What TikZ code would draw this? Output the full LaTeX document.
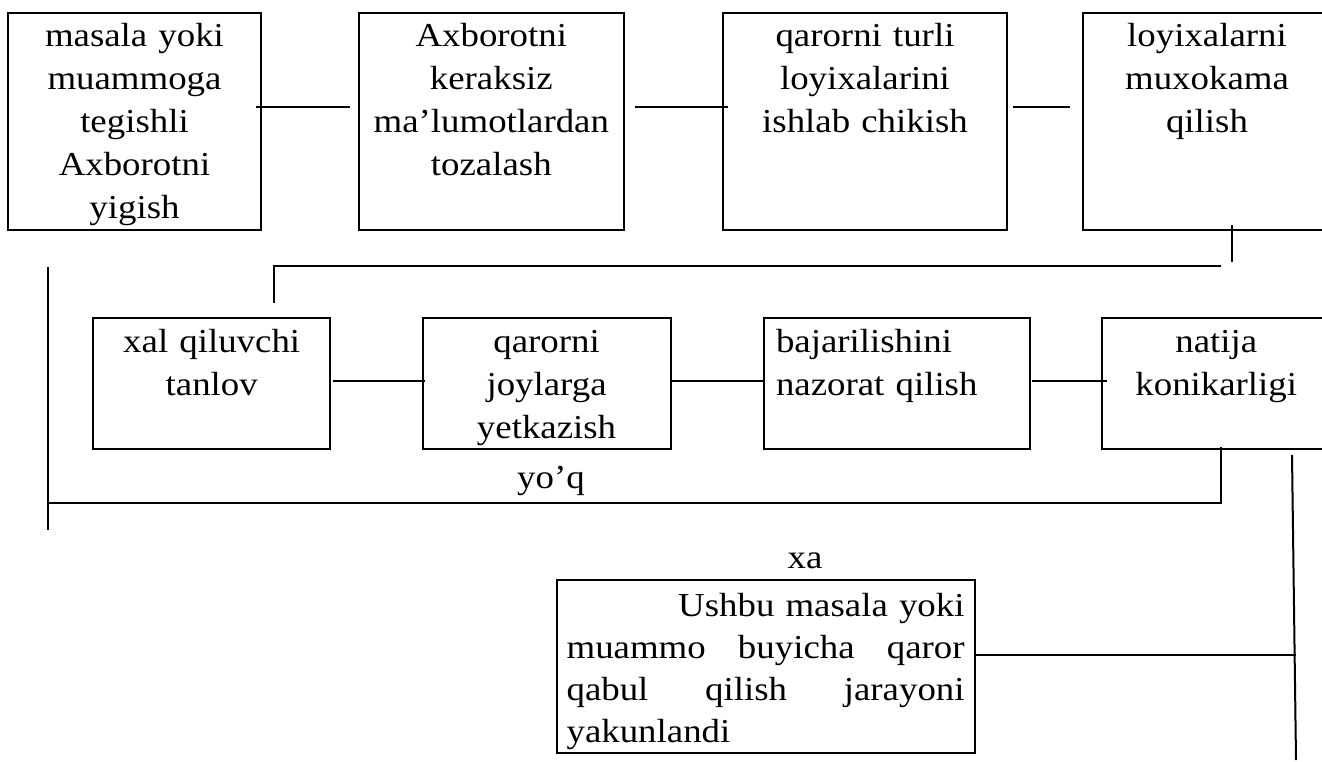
\documentclass[tikz,border=0pt]{standalone}
\usepackage{fontspec}
\setmainfont{Liberation Serif}[FakeStretch=1.1]
\begin{document}
\begin{tikzpicture}[x=1pt,y=-1pt]
\tikzset{
  box/.style={draw, line width=2pt, anchor=north west, outer sep=0pt,
    inner xsep=4pt, inner ysep=0pt, align=center,
    font=\fontsize{33.5}{43}\selectfont, text height=34pt},
  wire/.style={line width=2pt},
  lbl/.style={font=\fontsize{33.5}{43}\selectfont, inner sep=0pt, anchor=base}
}
\useasboundingbox (0,0) rectangle (1322,762);
\clip (0,0) rectangle (1322,762);

% first row of steps
\node[box, text width=245pt, text depth=183pt] (b1) at (8,13)
  {masala yoki\\muammoga\\tegishli\\Axborotni\\yigish};
\node[box, text width=257.4pt, text depth=183pt] (b2) at (358.6,13)
  {Axborotni\\keraksiz\\ma’lumotlardan\\tozalash};
\node[box, text width=276pt, text depth=183pt] (b3) at (723,13)
  {qarorni turli\\loyixalarini\\ishlab chikish};
\node[box, text width=240pt, text depth=183pt] (b4) at (1083,13)
  {loyixalarni\\muxokama\\qilish};

% second row of steps
\node[box, text width=228.6pt, text depth=97pt] (b5) at (93.4,318)
  {xal qiluvchi\\tanlov};
\node[box, text width=239.9pt, text depth=97pt] (b6) at (422.6,318)
  {qarorni\\joylarga\\yetkazish};
\node[box, align=left, inner xsep=12pt, text width=242pt, text depth=97pt] (b7) at (764,318)
  {bajarilishini\\nazorat qilish};
\node[box, text width=221.5pt, text depth=97pt] (b8) at (1101.5,318)
  {natija\\konikarligi};

% final step, justified paragraph with an indented first line
\node[box, align=left, inner xsep=10pt, text width=398pt, text height=36pt, text depth=137pt,
      font=\fontsize{33.5}{42}\selectfont] (b9) at (556.6,580)
  {\makebox[\linewidth][r]{Ushbu masala yoki}\\
   \makebox[\linewidth][l]{muammo\hfill buyicha\hfill qaror}\\
   \makebox[\linewidth][l]{qabul\hfill qilish\hfill jarayoni}\\
   yakunlandi};

% branch labels
\node[lbl] (no) at (551,488) {yo’q};
\node[lbl] (yes) at (805,568) {xa};

% free ends of the long vertical lines
\coordinate (lt) at (48,267);
\coordinate (lb) at (48,530);
\coordinate (rt) at (1292,455);
\coordinate (rb) at (1296,760);

% connectors of the first row
\draw[wire] ([shift={(-5,-14.5)}]b1.east) -- ([shift={(-8.6,-14.5)}]b2.west);
\draw[wire] ([shift={(11,-14.5)}]b2.east) -- ([shift={(4.5,-14.5)}]b3.west);
\draw[wire] ([shift={(6,-14.5)}]b3.east) -- ([shift={(-13.5,-14.5)}]b4.west);

% from the first row down to the second
\draw[wire] ([shift={(25,-5)}]b4.south) -- ([shift={(25,32)}]b4.south);
\draw[wire] ([shift={(14,36)}]b4.south) -| ([shift={(62.3,-15)}]b5.north);

% connectors of the second row
\draw[wire] ([shift={(2.5,-2.5)}]b5.east) -- ([shift={(2.4,-2.5)}]b6.west);
\draw[wire] ([shift={(1.5,-2.5)}]b6.east) -- ([shift={(0.7,-2.5)}]b7.west);
\draw[wire] ([shift={(2,-2.5)}]b7.east) -- ([shift={(5.1,-2.5)}]b8.west);

% "no" loop back to the start
\draw[wire] (lt) -- (lb);
\draw[wire] ([shift={(4.75,-2)}]b8.south) |- ([shift={(0,-27)}]lb);

% "yes" branch to the final step
\draw[wire] (rt) -- (rb);
\draw[wire] ([shift={(0,-11.5)}]b9.east) -- ([shift={(0,-11.5)}]b9.east -| rb);
\end{tikzpicture}
\end{document}
